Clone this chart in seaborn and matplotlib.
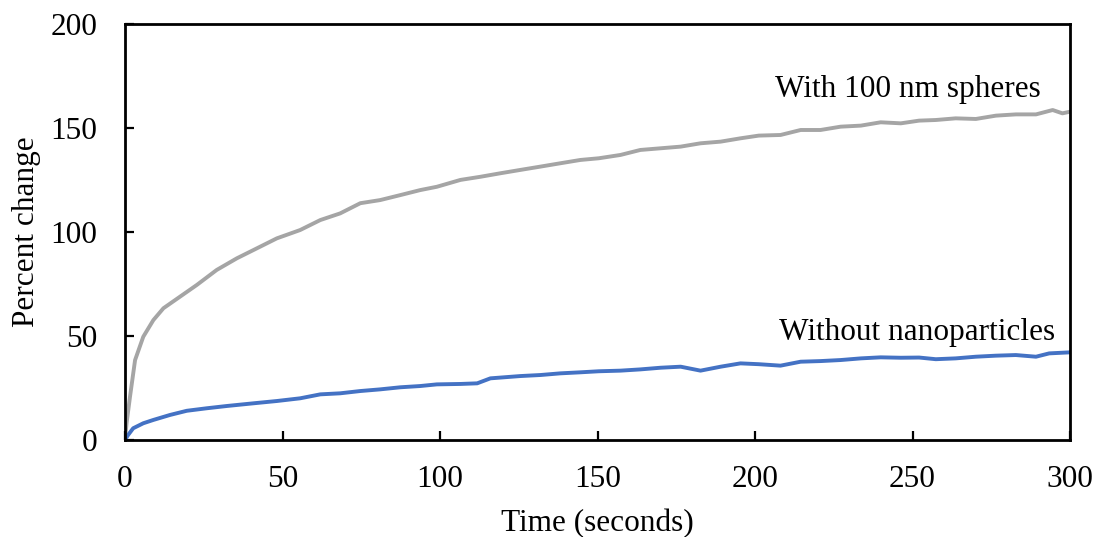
import matplotlib
matplotlib.use("Agg")
import matplotlib.pyplot as plt
import seaborn as sns
import pandas as pd

# ---- data ----
time_spheres = [0, 0.5, 1.6, 3.2, 5.8, 9.0, 12.2, 17.5, 22.8, 29.1, 35.5, 40.8, 48.2,
                55.6, 62.0, 68.3, 74.7, 81.0, 87.4, 93.7, 99.0, 106.5, 112.8, 119.2,
                125.5, 131.9, 138.2, 144.6, 150.4, 157.3, 163.6, 170.0, 176.4, 182.7,
                189.1, 195.4, 201.2, 208.1, 214.5, 220.8, 227.2, 233.6, 239.9, 246.3,
                252.1, 257.4, 263.7, 270.1, 276.5, 282.8, 289.2, 294.5, 297.6, 300.0]
pct_spheres = [0, 8.0, 20.8, 38.3, 49.5, 57.5, 63.2, 68.8, 74.4, 81.6, 87.2, 91.2, 96.8,
               100.8, 105.6, 108.8, 113.7, 115.2, 117.6, 120.0, 121.6, 124.9, 126.4, 128.1,
               129.7, 131.3, 132.9, 134.5, 135.3, 136.9, 139.3, 140.1, 140.9, 142.5,
               143.3, 144.9, 146.2, 146.5, 148.9, 148.9, 150.5, 151.0, 152.6, 152.1,
               153.4, 153.7, 154.5, 154.2, 155.8, 156.4, 156.4, 158.5, 156.9, 157.7]

time_none = [0, 1.0, 2.6, 5.8, 9.0, 14.3, 19.6, 25.9, 32.3, 40.8, 48.2, 55.6, 62.0,
             68.3, 74.7, 81.0, 87.4, 93.7, 99.0, 106.5, 111.8, 116.0, 125.5, 131.9,
             138.2, 144.6, 150.4, 157.3, 163.6, 170.0, 176.4, 182.7, 189.1, 195.4,
             201.2, 208.1, 214.5, 220.8, 227.2, 233.6, 239.9, 246.3, 252.1, 257.4,
             263.7, 270.1, 276.5, 282.8, 289.2, 293.4, 300.0]
pct_none = [0, 2.3, 5.5, 7.9, 9.5, 11.9, 13.9, 15.1, 16.2, 17.5, 18.6, 19.9, 21.8,
            22.3, 23.4, 24.2, 25.2, 25.8, 26.6, 26.8, 27.1, 29.5, 30.6, 31.1,
            31.9, 32.4, 32.9, 33.2, 33.8, 34.6, 35.1, 33.2, 35.1, 36.7,
            36.3, 35.6, 37.5, 37.8, 38.3, 39.1, 39.6, 39.4, 39.5, 38.7,
            39.1, 39.9, 40.4, 40.7, 39.9, 41.5, 42.0]

series_names = ["With 100 nm spheres", "Without nanoparticles"]
x_ticks = [0, 50, 100, 150, 200, 250, 300]
y_ticks = [0, 50, 100, 150, 200]

df = pd.concat([
    pd.DataFrame({"t": time_spheres, "p": pct_spheres, "s": series_names[0]}),
    pd.DataFrame({"t": time_none, "p": pct_none, "s": series_names[1]}),
], ignore_index=True)

sns.set_theme(style="white")
plt.rcParams["font.family"] = ["Liberation Serif", "DejaVu Serif"]

fig = plt.figure(figsize=(11.01, 5.37), dpi=100)
ax = fig.add_axes([125 / 1101, 1 - 439.7 / 537, (1070 - 125) / 1101, (439.7 - 23.7) / 537])

palette = {series_names[0]: "#A5A5A5", series_names[1]: "#4472C4"}
sns.lineplot(data=df, x="t", y="p", hue="s", palette=palette, linewidth=2.8,
             legend=False, ax=ax, sort=True, estimator=None)

ax.set_xlim(0, 300)
ax.set_ylim(0, 200)
ax.set_xticks(x_ticks)
ax.set_yticks(y_ticks)
ax.set_xticklabels([str(v) for v in x_ticks])
ax.set_yticklabels([str(v) for v in y_ticks])

fs = 22.5
ax.tick_params(axis="both", direction="in", length=6.5, width=1.6, color="black",
               labelsize=fs, labelcolor="black", left=True, bottom=True)
ax.tick_params(axis="x", pad=18)
ax.tick_params(axis="y", pad=20)
for sp in ax.spines.values():
    sp.set_visible(True)
    sp.set_color("black")
    sp.set_linewidth(2.0)

ax.set_xlabel("Time (seconds)", fontsize=fs, color="black", labelpad=11)
ax.set_ylabel("Percent change", fontsize=fs, color="black", labelpad=7)

ax.text(206.5, 164.9, series_names[0], fontsize=fs, ha="left", va="baseline", color="black")
ax.text(207.5, 47.9, series_names[1], fontsize=fs, ha="left", va="baseline", color="black")

fig.savefig("out.png", dpi=100, facecolor="white")
